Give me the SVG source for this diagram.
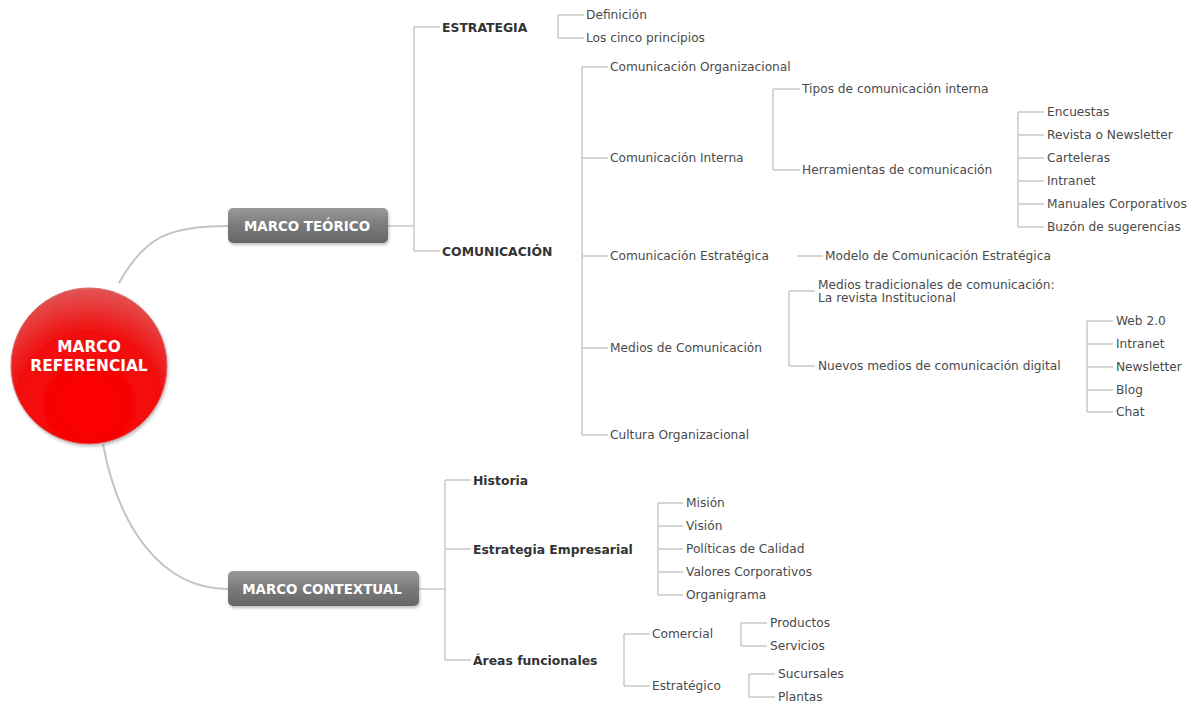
<svg xmlns="http://www.w3.org/2000/svg" width="1194" height="705" viewBox="0 0 1194 705">
  <defs>
    <radialGradient id="rootFill" cx="0.5" cy="0.75" r="0.75">
      <stop offset="0" stop-color="#ff0000"/>
      <stop offset="0.6" stop-color="#f20a0a"/>
      <stop offset="1" stop-color="#e25555"/>
    </radialGradient>
    <linearGradient id="boxFill" x1="0" y1="0" x2="0" y2="1">
      <stop offset="0" stop-color="#9a9a9a"/>
      <stop offset="0.5" stop-color="#7a7a7a"/>
      <stop offset="1" stop-color="#666666"/>
    </linearGradient>
    <filter id="soft" x="-10%" y="-10%" width="130%" height="140%">
      <feDropShadow dx="1" dy="2" stdDeviation="1.5" flood-color="#000" flood-opacity="0.25"/>
    </filter>
  </defs>
  <style>
    .ln { fill: none; stroke: #c9c9c9; stroke-width: 1.5; }
    .curve { fill: none; stroke: #c4c4c4; stroke-width: 2; }
    .t { font-family: "DejaVu Sans", Verdana, sans-serif; font-size: 12.2px; fill: #4a4a4a; dominant-baseline: central; }
    .b { font-family: "DejaVu Sans", Verdana, sans-serif; font-size: 12.4px; font-weight: bold; fill: #333333; dominant-baseline: central; }
    .w { font-family: "DejaVu Sans", Verdana, sans-serif; font-size: 13.4px; font-weight: bold; fill: #ffffff; text-anchor: middle; dominant-baseline: central; }
    .r { font-family: "DejaVu Sans", Verdana, sans-serif; font-size: 15.4px; font-weight: bold; fill: #ffffff; text-anchor: middle; dominant-baseline: central; }
  </style>
  <rect width="1194" height="705" fill="#ffffff"/>

  <!-- connectors -->
  <g id="connectors">
    <path class="curve" d="M119,283 C145,236 170,226 228,226"/>
    <path class="curve" d="M103,444 C118,525 160,589 228,589"/>
    <!-- MARCO TEÓRICO -->
    <path class="ln" d="M388,226 H414 M414,27 V251 M414,27 H440 M414,251 H440"/>
    <!-- ESTRATEGIA -->
    <path class="ln" d="M558,15 V38 M558,15 H584 M558,38 H584"/>
    <!-- COMUNICACIÓN -->
    <path class="ln" d="M582,67 V435 M582,67 H608 M582,158 H608 M582,256 H608 M582,348 H608 M582,435 H608"/>
    <!-- Comunicación Interna -->
    <path class="ln" d="M773,89 V170 M773,89 H800 M773,170 H800"/>
    <!-- Herramientas -->
    <path class="ln" d="M1018,112 V227 M1018,112 H1044 M1018,135 H1044 M1018,158 H1044 M1018,181 H1044 M1018,204 H1044 M1018,227 H1044"/>
    <!-- Comunicación Estratégica -->
    <path class="ln" d="M797,256 H823"/>
    <!-- Medios de Comunicación -->
    <path class="ln" d="M789,291 V366 M789,291 H815 M789,366 H815"/>
    <!-- Nuevos medios -->
    <path class="ln" d="M1087,321 V412 M1087,321 H1113 M1087,344 H1113 M1087,367 H1113 M1087,390 H1113 M1087,412 H1113"/>
    <!-- MARCO CONTEXTUAL -->
    <path class="ln" d="M419,589 H445 M445,480 V660 M445,480 H471 M445,549 H471 M445,660 H471"/>
    <!-- Estrategia Empresarial -->
    <path class="ln" d="M658,503 V595 M658,503 H683 M658,526 H683 M658,549 H683 M658,572 H683 M658,595 H683"/>
    <!-- Áreas funcionales -->
    <path class="ln" d="M624,634 V686 M624,634 H650 M624,686 H650"/>
    <!-- Comercial -->
    <path class="ln" d="M741,623 V646 M741,623 H767 M741,646 H767"/>
    <!-- Estratégico -->
    <path class="ln" d="M749,674 V697 M749,674 H775 M749,697 H775"/>
  </g>

  <!-- root -->
  <g id="marco-referencial">
    <circle cx="89" cy="366" r="78" fill="url(#rootFill)" stroke="#d86a6a" stroke-width="1" filter="url(#soft)"/>
    <text class="r" x="89" y="347">MARCO</text>
    <text class="r" x="89" y="366">REFERENCIAL</text>
  </g>

  <g id="marco-teorico">
    <rect x="228" y="208" width="160" height="35" rx="5" fill="url(#boxFill)" filter="url(#soft)"/>
    <text class="w" x="307" y="226">MARCO TEÓRICO</text>
  </g>

  <g id="marco-contextual">
    <rect x="228" y="571" width="191" height="35" rx="5" fill="url(#boxFill)" filter="url(#soft)"/>
    <text class="w" x="322" y="589">MARCO CONTEXTUAL</text>
  </g>

  <g id="estrategia"><text class="b" x="442" y="27">ESTRATEGIA</text></g>
  <g id="definicion"><text class="t" x="586" y="15">Definición</text></g>
  <g id="cinco-principios"><text class="t" x="586" y="38">Los cinco principios</text></g>

  <g id="comunicacion"><text class="b" x="442" y="251">COMUNICACIÓN</text></g>
  <g id="com-organizacional"><text class="t" x="610" y="67">Comunicación Organizacional</text></g>
  <g id="com-interna"><text class="t" x="610" y="158">Comunicación Interna</text></g>
  <g id="tipos-com"><text class="t" x="802" y="89">Tipos de comunicación interna</text></g>
  <g id="herramientas"><text class="t" x="802" y="170">Herramientas de comunicación</text></g>
  <g id="encuestas"><text class="t" x="1047" y="112">Encuestas</text></g>
  <g id="revista"><text class="t" x="1047" y="135">Revista o Newsletter</text></g>
  <g id="carteleras"><text class="t" x="1047" y="158">Carteleras</text></g>
  <g id="intranet-1"><text class="t" x="1047" y="181">Intranet</text></g>
  <g id="manuales"><text class="t" x="1047" y="204">Manuales Corporativos</text></g>
  <g id="buzon"><text class="t" x="1047" y="227">Buzón de sugerencias</text></g>

  <g id="com-estrategica"><text class="t" x="610" y="256">Comunicación Estratégica</text></g>
  <g id="modelo"><text class="t" x="825" y="256">Modelo de Comunicación Estratégica</text></g>

  <g id="medios"><text class="t" x="610" y="348">Medios de Comunicación</text></g>
  <g id="medios-tradicionales">
    <text class="t" x="818" y="285">Medios tradicionales de comunicación:</text>
    <text class="t" x="818" y="298">La revista Institucional</text>
  </g>
  <g id="nuevos-medios"><text class="t" x="818" y="366">Nuevos medios de comunicación digital</text></g>
  <g id="web"><text class="t" x="1116" y="321">Web 2.0</text></g>
  <g id="intranet-2"><text class="t" x="1116" y="344">Intranet</text></g>
  <g id="newsletter"><text class="t" x="1116" y="367">Newsletter</text></g>
  <g id="blog"><text class="t" x="1116" y="390">Blog</text></g>
  <g id="chat"><text class="t" x="1116" y="412">Chat</text></g>

  <g id="cultura"><text class="t" x="610" y="435">Cultura Organizacional</text></g>

  <g id="historia"><text class="b" x="473" y="480">Historia</text></g>
  <g id="estrategia-empresarial"><text class="b" x="473" y="549">Estrategia Empresarial</text></g>
  <g id="mision"><text class="t" x="686" y="503">Misión</text></g>
  <g id="vision"><text class="t" x="686" y="526">Visión</text></g>
  <g id="politicas"><text class="t" x="686" y="549">Políticas de Calidad</text></g>
  <g id="valores"><text class="t" x="686" y="572">Valores Corporativos</text></g>
  <g id="organigrama"><text class="t" x="686" y="595">Organigrama</text></g>

  <g id="areas"><text class="b" x="473" y="660">Áreas funcionales</text></g>
  <g id="comercial"><text class="t" x="652" y="634">Comercial</text></g>
  <g id="productos"><text class="t" x="770" y="623">Productos</text></g>
  <g id="servicios"><text class="t" x="770" y="646">Servicios</text></g>
  <g id="estrategico"><text class="t" x="652" y="686">Estratégico</text></g>
  <g id="sucursales"><text class="t" x="778" y="674">Sucursales</text></g>
  <g id="plantas"><text class="t" x="778" y="697">Plantas</text></g>
</svg>
